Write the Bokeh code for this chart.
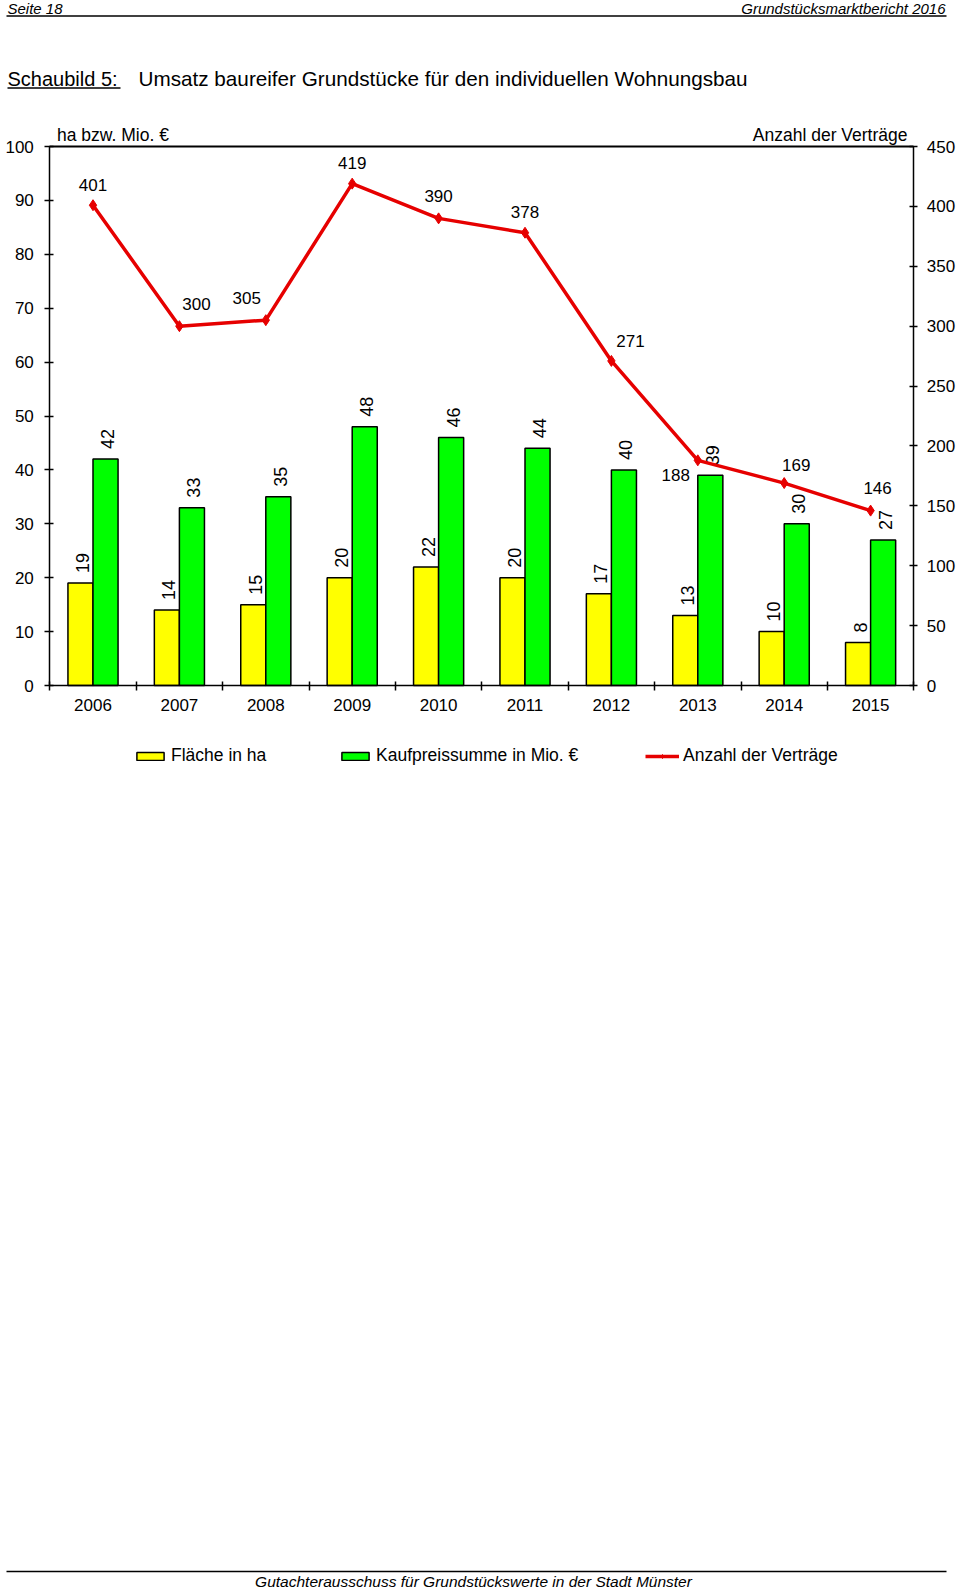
import numpy as np
from bokeh.plotting import figure
from bokeh.models import (Range1d, LinearAxis, FixedTicker, Legend, LegendItem)
from bokeh.embed import file_html
from bokeh.resources import INLINE
from bokeh.core.properties import value

# ---------------- data ----------------
years = ["2006", "2007", "2008", "2009", "2010", "2011", "2012", "2013", "2014", "2015"]
flaeche = [19, 14, 15, 20, 22, 20, 17, 13, 10, 8]                 # Fläche in ha
kaufpreis = [42, 33, 35, 48, 46, 44, 40, 39, 30, 27]              # Kaufpreissumme in Mio. €
vertraege = [401, 300, 305, 419, 390, 378, 271, 188, 169, 146]    # Anzahl der Verträge
left_ticks = [0, 10, 20, 30, 40, 50, 60, 70, 80, 90, 100]
right_ticks = [0, 50, 100, 150, 200, 250, 300, 350, 400, 450]

# ---------------- styling / layout ----------------
FONT = "Liberation Sans"
YELLOW = "#FFFF00"
GREEN = "#00FF00"
RED = "#E60000"
line_label_dx = [0, 17, -19, 0, 0, 0, 19, -22, 12, 7]
line_label_dy = [-20, -22, -22, -21, -22, -21, -20, 15, -18, -23]

PAGE_W, PAGE_H = 960, 1589
PLOT_L_PX, PLOT_R_PX = 49.3, 913.3     # page x of the left / right axis
PLOT_B_PX, PLOT_T_PX = 685.0, 146.0    # page y of the 0 line / top line

n = len(years)
ppx = (PLOT_R_PX - PLOT_L_PX) / n
ppy = (PLOT_B_PX - PLOT_T_PX) / (left_ticks[-1] - left_ticks[0])
x_start = -0.5 - PLOT_L_PX / ppx
x_end = x_start + PAGE_W / ppx
y_end = left_ticks[-1] + PLOT_T_PX / ppy
y_start = y_end - PAGE_H / ppy
rscale = right_ticks[-1] / left_ticks[-1]


def X(px):
    return x_start + px / ppx


def Y(py):
    return y_end - py / ppy


p = figure(width=PAGE_W, height=PAGE_H, x_range=Range1d(x_start, x_end),
           y_range=Range1d(y_start, y_end), output_backend="svg", toolbar_location=None,
           min_border=0)
p.xgrid.visible = False
p.ygrid.visible = False
p.outline_line_color = None
p.background_fill_color = "white"
p.border_fill_color = "white"
p.extra_y_ranges = {"right": Range1d(y_start * rscale, y_end * rscale)}

idx = np.arange(n)
BW = 0.29
x_yel = idx - BW / 2
x_grn = idx + BW / 2

# bottom axis (category boundaries as minor ticks, year labels at centres)
xa = p.xaxis[0]
xa.fixed_location = left_ticks[0]
xa.bounds = (-0.5, n - 0.5)
xa.ticker = FixedTicker(ticks=list(idx), minor_ticks=[i - 0.5 for i in range(n + 1)])
xa.major_label_overrides = {int(i): y for i, y in zip(idx, years)}
xa.major_tick_line_color = None
xa.major_tick_in = 0
xa.major_tick_out = 5
xa.minor_tick_in = 4
xa.minor_tick_out = 5
xa.minor_tick_line_color = "black"
xa.minor_tick_line_width = 1.5
xa.major_label_standoff = 8

ya = p.yaxis[0]
ya.fixed_location = -0.5
ya.bounds = (left_ticks[0], left_ticks[-1])
ya.ticker = FixedTicker(ticks=left_ticks)
ya.major_tick_in = 4
ya.major_tick_out = 5
ya.major_label_standoff = 11
ya.minor_tick_line_color = None

ra = LinearAxis(y_range_name="right", ticker=FixedTicker(ticks=right_ticks),
                bounds=(right_ticks[0], right_ticks[-1]), fixed_location=n - 0.5)
ra.major_tick_in = 4
ra.major_tick_out = 4
ra.major_label_standoff = 9
ra.minor_tick_line_color = None
p.add_layout(ra, "right")

ta = LinearAxis(ticker=FixedTicker(ticks=[]), bounds=(-0.5, n - 0.5),
                fixed_location=left_ticks[-1])
ta.minor_tick_line_color = None
ta.major_tick_line_color = None
p.add_layout(ta, "above")

for ax in (xa, ya, ra, ta):
    ax.axis_line_color = "black"
    ax.axis_line_width = 1.5
    ax.major_tick_line_width = 1.5
    ax.major_label_text_font = FONT
    ax.major_label_text_font_size = "17px"
    ax.major_label_text_color = "black"
ta.axis_line_width = 2
ya.major_tick_line_color = "black"
ra.major_tick_line_color = "black"

# bars
r_yel = p.vbar(x=x_yel, top=flaeche, width=BW, fill_color=YELLOW, line_color="black", line_width=1.5)
r_grn = p.vbar(x=x_grn, top=kaufpreis, width=BW, fill_color=GREEN, line_color="black", line_width=1.5)

for xs, vals in ((x_yel, flaeche), (x_grn, kaufpreis)):
    p.text(x=xs, y=vals, text=[str(v) for v in vals], angle=np.pi / 2,
           text_align="left", text_baseline="middle", x_offset=2, y_offset=-10,
           text_font=value(FONT), text_font_size="18px", text_color="black")

# line
r_line = p.line(x=idx, y=vertraege, y_range_name="right", line_color=RED, line_width=3.5)
r_mark = p.scatter(x=idx, y=vertraege, y_range_name="right", marker="diamond", size=11,
                   fill_color=RED, line_color=RED)
p.text(x=idx, y=vertraege, y_range_name="right", text=[str(v) for v in vertraege],
       x_offset=line_label_dx, y_offset=line_label_dy, text_align="center",
       text_baseline="middle", text_font=value(FONT), text_font_size="17px", text_color="black")


def txt(px, py, s, size, align="left", style="normal"):
    p.text(x=[X(px)], y=[Y(py)], text=[s], text_font=value(FONT), text_font_size=size,
           text_font_style=style, text_align=align, text_baseline="middle", text_color="black")


def rule(x0, x1, py, w=1.3):
    p.line(x=[X(x0), X(x1)], y=[Y(py), Y(py)], line_color="black", line_width=w)


# page header and title
txt(7, 8, "Seite 18", "15px", style="italic")
txt(945, 8, "Grundstücksmarktbericht 2016", "15px", align="right", style="italic")
rule(6, 946, 15.5)
txt(7, 78, "Schaubild 5:", "20px")
rule(7, 120, 87.5)
txt(138, 78, "Umsatz baureifer Grundstücke für den individuellen Wohnungsbau", "20.7px")

# axis titles
txt(56.5, 134, "ha bzw. Mio. €", "17.5px")
txt(907, 134, "Anzahl der Verträge", "17.5px", align="right")

# legends
LEG_TOP, LEG_H = 746, 20


def add_legend(label, renderers, left_px):
    lg = Legend(items=[LegendItem(label=label, renderers=renderers)],
                location=(left_px, PAGE_H - LEG_TOP - LEG_H), orientation="horizontal",
                border_line_color=None, background_fill_alpha=0, padding=0, margin=0,
                glyph_width=34, glyph_height=10, label_standoff=4, label_height=LEG_H,
                label_text_font=FONT, label_text_font_size="17.5px", label_text_color="black")
    p.add_layout(lg, "center")


add_legend("Fläche in ha", [r_yel], 133)
add_legend("Kaufpreissumme in Mio. €", [r_grn], 338)
add_legend("Anzahl der Verträge", [r_line, r_mark], 645)

# footer
rule(6, 946, 1571)
txt(473, 1581, "Gutachterausschuss für Grundstückswerte in der Stadt Münster", "15.5px",
    align="center", style="italic")

open("out.html", "w").write(file_html(p, INLINE))
